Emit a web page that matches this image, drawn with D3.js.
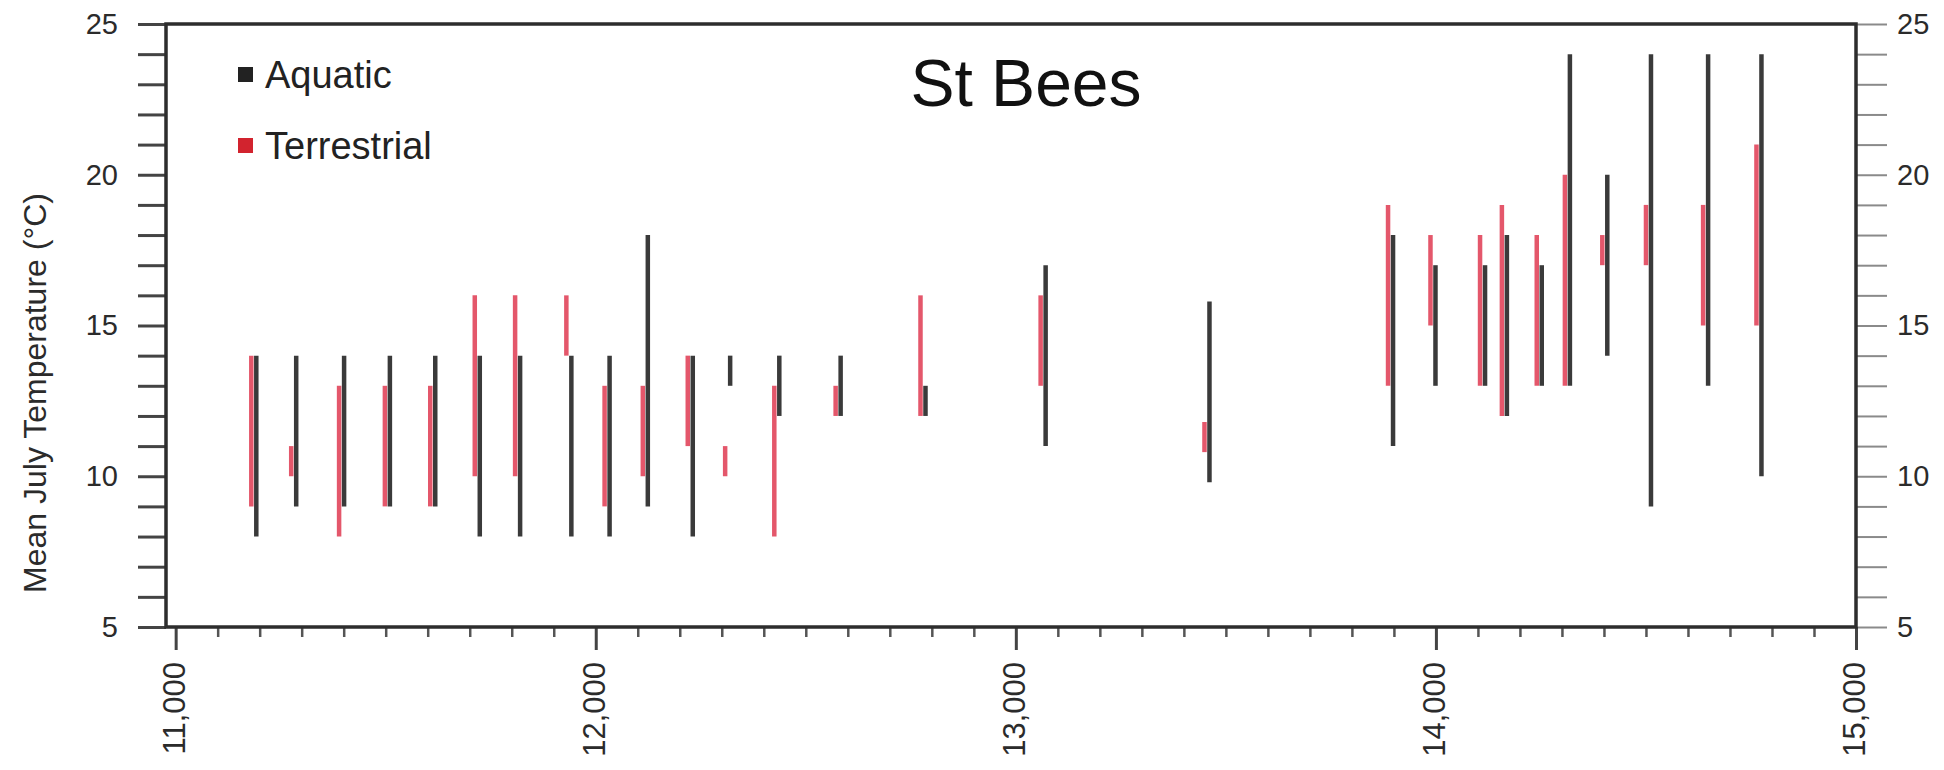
<!DOCTYPE html>
<html>
<head>
<meta charset="utf-8">
<script src="https://cdn.jsdelivr.net/npm/d3@7"></script>
<style>
  body { margin: 0; background: #fff; }
  svg { display: block; font-family: "Liberation Sans", Arial, sans-serif; }
</style>
</head>
<body>
<div id="chart"></div>
<script>
// ages (cal yr BP) of each sample, and temperature ranges
const ages = [11186, 11281, 11395, 11504, 11612, 11718, 11814, 11936, 12027, 12118,
              12225, 12314, 12431, 12577, 12779, 13065, 13455, 13892, 13993, 14111,
              14163, 14246, 14313, 14402, 14506, 14642, 14769];
const aquaticMin = [8, 9, 9, 9, 9, 8, 8, 8, 8, 9, 8, 13, 12, 12, 12, 11, 9.8, 11, 13, 13, 12, 13, 13, 14, 9, 13, 10];
const aquaticMax = [14, 14, 14, 14, 14, 14, 14, 14, 14, 18, 14, 14, 14, 14, 13, 17, 15.8, 18, 17, 17, 18, 17, 24, 20, 24, 24, 24];
const terrMin = [9, 10, 8, 9, 9, 10, 10, 14, 9, 10, 11, 10, 8, 12, 12, 13, 10.8, 13, 15, 13, 12, 13, 13, 17, 17, 15, 15];
const terrMax = [14, 11, 13, 13, 13, 16, 16, 16, 13, 13, 14, 11, 13, 13, 16, 16, 11.8, 19, 18, 18, 19, 18, 20, 18, 19, 19, 21];

const xTicks = [11000, 12000, 13000, 14000, 15000];
const yTicks = [5, 10, 15, 20, 25];
const seriesNames = ['Aquatic', 'Terrestrial'];
const title = 'St Bees';

const width = 1944, height = 770;
const plot = { left: 166, right: 1856, top: 24, bottom: 627 };

const svg = d3.select('#chart').append('svg')
    .attr('width', width)
    .attr('height', height);

const x = d3.scaleLinear().domain([10977, 15000]).range([plot.left, plot.right]);
const y = d3.scaleLinear().domain([5, 25]).range([plot.bottom, plot.top]);

const black = '#3a3a3a';
const red = '#e4576b';

// bars: red drawn a bit left, black a bit right
const rows = ages.map((a, i) => ({
    age: a, aMin: aquaticMin[i], aMax: aquaticMax[i], tMin: terrMin[i], tMax: terrMax[i]
}));

svg.append('g').selectAll('line')
    .data(rows)
    .enter().append('line')
    .attr('x1', d => x(d.age) - 2.5)
    .attr('x2', d => x(d.age) - 2.5)
    .attr('y1', d => y(d.tMin))
    .attr('y2', d => y(d.tMax))
    .attr('stroke', red)
    .attr('stroke-width', 4.5);

svg.append('g').selectAll('line')
    .data(rows)
    .enter().append('line')
    .attr('x1', d => x(d.age) + 2.5)
    .attr('x2', d => x(d.age) + 2.5)
    .attr('y1', d => y(d.aMin))
    .attr('y2', d => y(d.aMax))
    .attr('stroke', black)
    .attr('stroke-width', 4.5);

// left axis
const yAll = d3.range(5, 26);
const gl = svg.append('g')
    .attr('transform', `translate(${plot.left},0)`)
    .call(d3.axisLeft(y).tickValues(yAll).tickSize(28).tickPadding(20)
        .tickFormat(d => yTicks.includes(d) ? d : ''));
gl.select('.domain').remove();
gl.selectAll('line').attr('stroke', '#444').attr('stroke-width', 3);
gl.selectAll('text').attr('font-size', 29).attr('fill', '#2b2b2b')
    .attr('font-family', '"Liberation Sans", Arial, sans-serif');

// right axis
const gr = svg.append('g')
    .attr('transform', `translate(${plot.right},0)`)
    .call(d3.axisRight(y).tickValues(yAll).tickSize(31).tickPadding(10)
        .tickFormat(d => yTicks.includes(d) ? d : ''));
gr.select('.domain').remove();
gr.selectAll('line').attr('stroke', '#8a8a8a').attr('stroke-width', 2);
gr.selectAll('text').attr('font-size', 29).attr('fill', '#2b2b2b')
    .attr('font-family', '"Liberation Sans", Arial, sans-serif');

// bottom axis, minor ticks every 100
const minor = d3.range(11100, 15000, 100).filter(v => v % 1000 !== 0);
const gm = svg.append('g')
    .attr('transform', `translate(0,${plot.bottom})`)
    .call(d3.axisBottom(x).tickValues(minor).tickSize(10).tickFormat(''));
gm.select('.domain').remove();
gm.selectAll('line').attr('stroke', '#555').attr('stroke-width', 2.5);

const gb = svg.append('g')
    .attr('transform', `translate(0,${plot.bottom})`)
    .call(d3.axisBottom(x).tickValues(xTicks).tickSize(23).tickFormat(d3.format(',')));
gb.select('.domain').remove();
gb.selectAll('line').attr('stroke', '#444').attr('stroke-width', 3);
gb.selectAll('text')
    .attr('font-size', 31)
    .attr('fill', '#2b2b2b')
    .attr('font-family', '"Liberation Sans", Arial, sans-serif')
    .attr('text-anchor', 'end')
    .attr('transform', 'rotate(-90)')
    .attr('x', -35)
    .attr('y', -2)
    .attr('dy', '0.35em');

// frame
svg.append('rect')
    .attr('x', plot.left).attr('y', plot.top)
    .attr('width', plot.right - plot.left).attr('height', plot.bottom - plot.top)
    .attr('fill', 'none')
    .attr('stroke', '#2d2d2d')
    .attr('stroke-width', 3.5);

// title
svg.append('text')
    .attr('x', 1026).attr('y', 106)
    .attr('text-anchor', 'middle')
    .attr('font-size', 66)
    .attr('fill', '#111')
    .text(title);

// legend
const legendColors = ['#222', '#d2232e'];
const lg = svg.append('g');
seriesNames.forEach((name, i) => {
    const cy = 74.5 + i * 71;
    lg.append('rect')
        .attr('x', 238).attr('y', cy - 7.5)
        .attr('width', 15).attr('height', 15)
        .attr('fill', legendColors[i]);
    lg.append('text')
        .attr('x', 265).attr('y', cy + 13.5)
        .attr('font-size', 38)
        .attr('fill', '#222')
        .text(name);
});

// y axis title
svg.append('text')
    .attr('transform', 'translate(46,393) rotate(-90)')
    .attr('text-anchor', 'middle')
    .attr('font-size', 32)
    .attr('fill', '#2b2b2b')
    .text('Mean July Temperature (°C)');
</script>
</body>
</html>
